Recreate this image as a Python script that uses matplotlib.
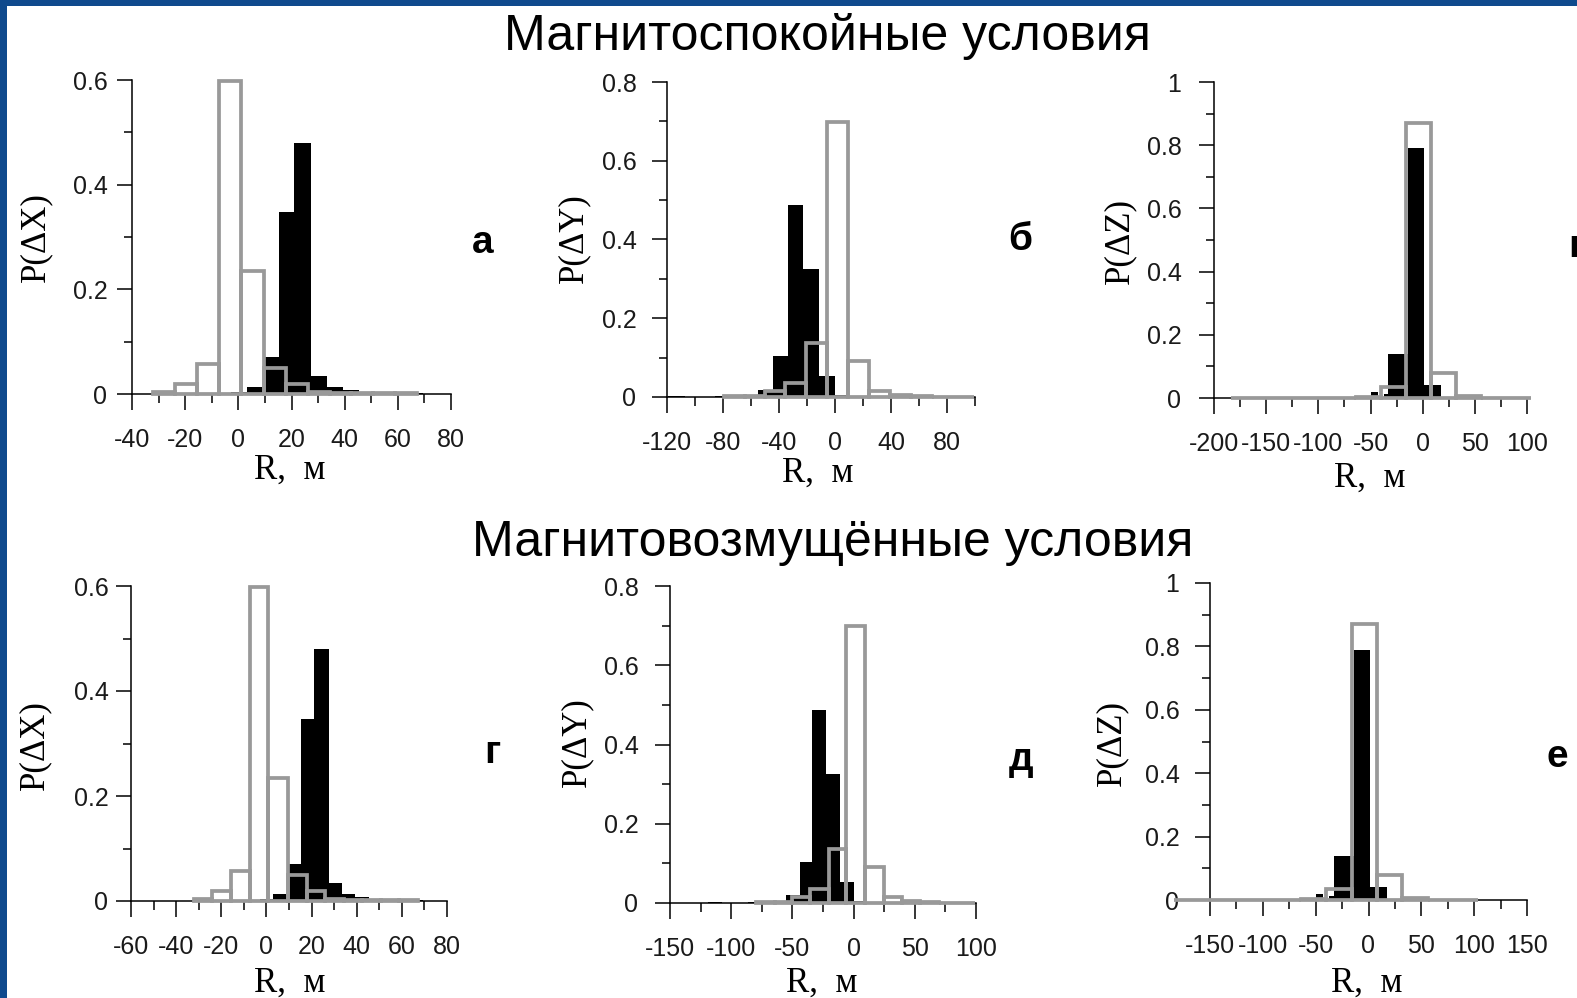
import numpy as np
import matplotlib

matplotlib.use("Agg")
import matplotlib.pyplot as plt
from matplotlib.patches import Rectangle
from matplotlib.ticker import MultipleLocator, FuncFormatter

W, H = 1577, 998

# --- histogram data (bin edges in m, probabilities)
gray_x_edges = [-32.2, -23.9, -15.6, -7.3, 0.9, 9.5, 17.9, 26.1, 34.3, 42.5, 50.7, 58.9, 67.1]
gray_x_vals = [0.004, 0.02, 0.057, 0.598, 0.235, 0.049, 0.02, 0.004, 0.002, 0.001, 0.001, 0.001]
black_x_edges = [-2.9, 3.1, 9.2, 15.2, 21.1, 27.5, 33.3, 39.2, 45.4, 51.4, 57.4, 63.4, 69.4]
black_x_vals = [0.003, 0.014, 0.071, 0.347, 0.48, 0.035, 0.014, 0.007, 0.001, 0.001, 0.004, 0.002]

gray_y_edges = [-79.5, -64.5, -50, -35.5, -20.5, -6, 9, 24.5, 39.5, 54.5, 69.5, 84.5, 99.5]
gray_y_vals = [0.002, 0.003, 0.015, 0.036, 0.137, 0.699, 0.092, 0.015, 0.005, 0.002, 0.001, 0.001]
black_y_edges = [-119, -107.5, -86, -79, -55, -44, -33.8, -22.7, -11.4, 0, 8]
black_y_vals = [0.002, 0.0, 0.002, 0.0, 0.019, 0.104, 0.488, 0.325, 0.053, 0.004]

gray_z_edges = [-184, -160, -136, -112, -88, -64, -40, -16, 8, 32, 56, 80, 104]
gray_z_vals = [0.001, 0.001, 0.001, 0.001, 0.001, 0.004, 0.035, 0.87, 0.079, 0.005, 0.001, 0.001]
black_z_edges = [-50, -43, -37, -33, -14, 1.6, 17.6]
black_z_vals = [0.02, 0.0, 0.012, 0.14, 0.79, 0.04]

HISTS = {
    "X": (black_x_edges, black_x_vals, gray_x_edges, gray_x_vals),
    "Y": (black_y_edges, black_y_vals, gray_y_edges, gray_y_vals),
    "Z": (black_z_edges, black_z_vals, gray_z_edges, gray_z_vals),
}

titles = ["Магнитоспокойные условия", "Магнитовозмущённые условия"]
letters = ["а", "б", "в", "г", "д", "е"]
ylabels = {"X": "P(ΔX)", "Y": "P(ΔY)", "Z": "P(ΔZ)"}
xlabel = "R,  м"

# panel: var, xlim, x major, x minor, ymax, axes box in px (x0, x1, ytop, y0)
PANELS = [
    ("X", (-40, 80), 20, 10, 0.6, (132, 451, 80, 394)),
    ("Y", (-120, 100), 40, 20, 0.8, (667, 975, 82, 397)),
    ("Z", (-200, 100), 50, 25, 1.0, (1214, 1527, 82, 398)),
    ("X", (-60, 80), 20, 10, 0.6, (131, 447, 586, 901)),
    ("Y", (-150, 100), 50, 25, 0.8, (670, 976, 586, 903)),
    ("Z", (-150, 150), 50, 25, 1.0, (1210, 1527, 583, 900)),
]
# label placement (px): ylabel centre, xlabel centre, letter centre, ytick pad
LAYOUT = [
    ((36, 237), (290, 470), (483, 243), 10),
    ((574, 238), (818, 473), (1020, 240), 16),
    ((1120, 241), (1370, 478), (1580, 247), 18),
    ((35, 745), (290, 983), (492, 753), 8),
    ((577, 742), (822, 983), (1021, 760), 17),
    ((1112, 743), (1367, 983), (1557, 757), 16),
]

GRAY = "#999999"
SANS = "Liberation Sans"
SERIF = "Liberation Serif"

plt.rcParams["axes.unicode_minus"] = False
plt.rcParams["font.family"] = SANS


def fx(x):
    return x / W


def fy(y):
    return 1 - y / H


fig = plt.figure(figsize=(W / 100, H / 100), dpi=100)
fig.patch.set_facecolor("#0f4a8d")
fig.patches.append(Rectangle((fx(7), 0), 1, fy(6), transform=fig.transFigure,
                             facecolor="white", edgecolor="none", zorder=-5))

fmt = FuncFormatter(lambda v, p: f"{v:g}")

for i, (var, xlim, xmaj, xmin, ymax, (x0, x1, yt, yb)) in enumerate(PANELS):
    ax = fig.add_axes([fx(x0), fy(yb), (x1 - x0) / W, (yb - yt) / H])
    ax.patch.set_alpha(0)
    be, bv, ge, gv = HISTS[var]
    ax.bar(be[:-1], bv, width=np.diff(be), align="edge", color="black",
           linewidth=0, zorder=2, clip_on=False)
    ax.bar(ge[:-1], gv, width=np.diff(ge), align="edge", fill=False,
           edgecolor=GRAY, linewidth=2.7, zorder=3, clip_on=False)
    ax.set_xlim(*xlim)
    ax.set_ylim(0, ymax)
    ax.xaxis.set_major_locator(MultipleLocator(xmaj))
    ax.xaxis.set_minor_locator(MultipleLocator(xmin))
    ax.yaxis.set_major_locator(MultipleLocator(0.2))
    ax.yaxis.set_minor_locator(MultipleLocator(0.1))
    ax.xaxis.set_major_formatter(fmt)
    ax.yaxis.set_major_formatter(fmt)
    for s in ("top", "right"):
        ax.spines[s].set_visible(False)
    for s in ("left", "bottom"):
        ax.spines[s].set_linewidth(1.1)
    ypad = LAYOUT[i][3] * 0.72
    ax.tick_params(axis="x", which="major", direction="out", length=11.5, width=1.1,
                   pad=13, labelsize=18, labelcolor="#1a1a1a")
    ax.tick_params(axis="x", which="minor", direction="out", length=6.5, width=1.1)
    ax.tick_params(axis="y", which="major", direction="out", length=10.5, width=1.1,
                   pad=ypad, labelsize=18, labelcolor="#1a1a1a")
    ax.tick_params(axis="y", which="minor", direction="out", length=5.5, width=1.1)

    (ylx, yly), (xlx, xly), (ltx, lty), _ = LAYOUT[i]
    fig.text(fx(ylx), fy(yly), ylabels[var], family=SERIF, fontsize=25,
             rotation=90, ha="center", va="center")
    fig.text(fx(xlx), fy(xly), xlabel, family=SERIF, fontsize=25,
             ha="center", va="center")
    fig.text(fx(ltx), fy(lty), letters[i], fontsize=28, fontweight="bold",
             ha="center", va="center")

fig.text(fx(827), fy(37), titles[0], fontsize=36, ha="center", va="center")
fig.text(fx(833), fy(543), titles[1], fontsize=36, ha="center", va="center")

fig.savefig("out.png", dpi=100, facecolor=fig.get_facecolor())
